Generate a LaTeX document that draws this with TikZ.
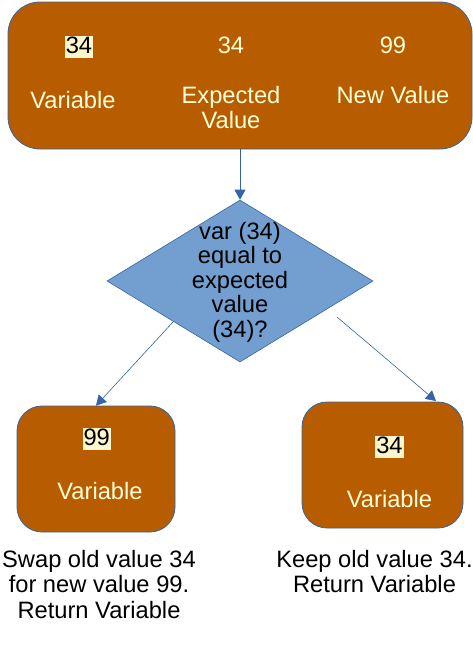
\documentclass[tikz,border=0pt]{standalone}
\usepackage{fontspec}
\setmainfont{Liberation Sans}
\usetikzlibrary{shapes.geometric,arrows.meta}
\definecolor{boxfill}{HTML}{B85C00}
\definecolor{boxline}{HTML}{3465A4}
\definecolor{decfill}{HTML}{729FCF}
\definecolor{cream}{HTML}{FFFFD7}
\definecolor{hlfill}{HTML}{FFF5CE}
\begin{document}
\begin{tikzpicture}[x=1pt,y=-1pt,every node/.style={font=\fontsize{23.7}{25.5}\selectfont,inner sep=0pt},
  varbox/.style={draw=boxline,line width=0.8pt,fill=boxfill,rounded corners=25pt},
  lbl/.style={text=cream},
  hl/.style={fill=hlfill,text=black,inner xsep=1pt,inner ysep=0.5pt,text height=17pt,text depth=4.5pt},
  dec/.style={diamond,draw=boxline,line width=0.6pt,fill=decfill,minimum width=266pt,minimum height=162pt},
  arr/.style={draw=boxline,line width=0.6pt,-{Triangle[length=10pt,width=11pt]}}]
   \useasboundingbox (0,0) rectangle (473,665);
   % values passed in
   \node [varbox,rounded corners=32pt,minimum width=464pt,minimum height=147pt] (args) at (240,75.5) {};
   \node [hl,anchor=base] (varval) at (79,53.3) {34};
   \node [lbl,anchor=base] (varname) at (73,108.3) {Variable};
   \node [lbl,anchor=base] (expval) at (231,53.3) {34};
   \node [lbl,anchor=north,align=center,font=\fontsize{23.7}{25}\selectfont] (expname) at (231,85.7) {Expected\\Value};
   \node [lbl,anchor=base] (newval) at (393,53.3) {99};
   \node [lbl,anchor=base] (newname) at (393,103) {New Value};
   % compare
   \node [dec] (cmp) at (240,281) {};
   \node [anchor=north,align=center,font=\fontsize{23.7}{24.5}\selectfont] (cmptext) at (240,221.7)
     {var (34)\\equal to\\expected\\value\\(34)?};
   % results
   \node [varbox,minimum width=158pt,minimum height=126pt] (swapbox) at (96,469) {};
   \node [hl,anchor=base] (swapval) at (96.7,445) {99};
   \node [lbl,anchor=base] (swapname) at (100,499) {Variable};
   \node [varbox,minimum width=161pt,minimum height=126pt] (keepbox) at (382.5,465) {};
   \node [hl,anchor=base] (keepval) at (389.5,453) {34};
   \node [lbl,anchor=base] (keepname) at (389.5,507) {Variable};
   \node [anchor=north,align=center] (swaptext) at (99,549.7)
     {Swap old value 34\\for new value 99.\\Return Variable};
   \node [anchor=north,align=center] (keeptext) at (374.5,549.7)
     {Keep old value 34.\\Return Variable};
   % arrows
   \coordinate (keepfrom) at (337,317);
   \coordinate (keepto) at (436,401);
   \draw [arr] (args.south) -- (cmp.north);
   \draw [arr] (cmp.south west) -- (swapbox.north);
   \draw [arr] (keepfrom) -- (keepto);
\end{tikzpicture}
\end{document}
